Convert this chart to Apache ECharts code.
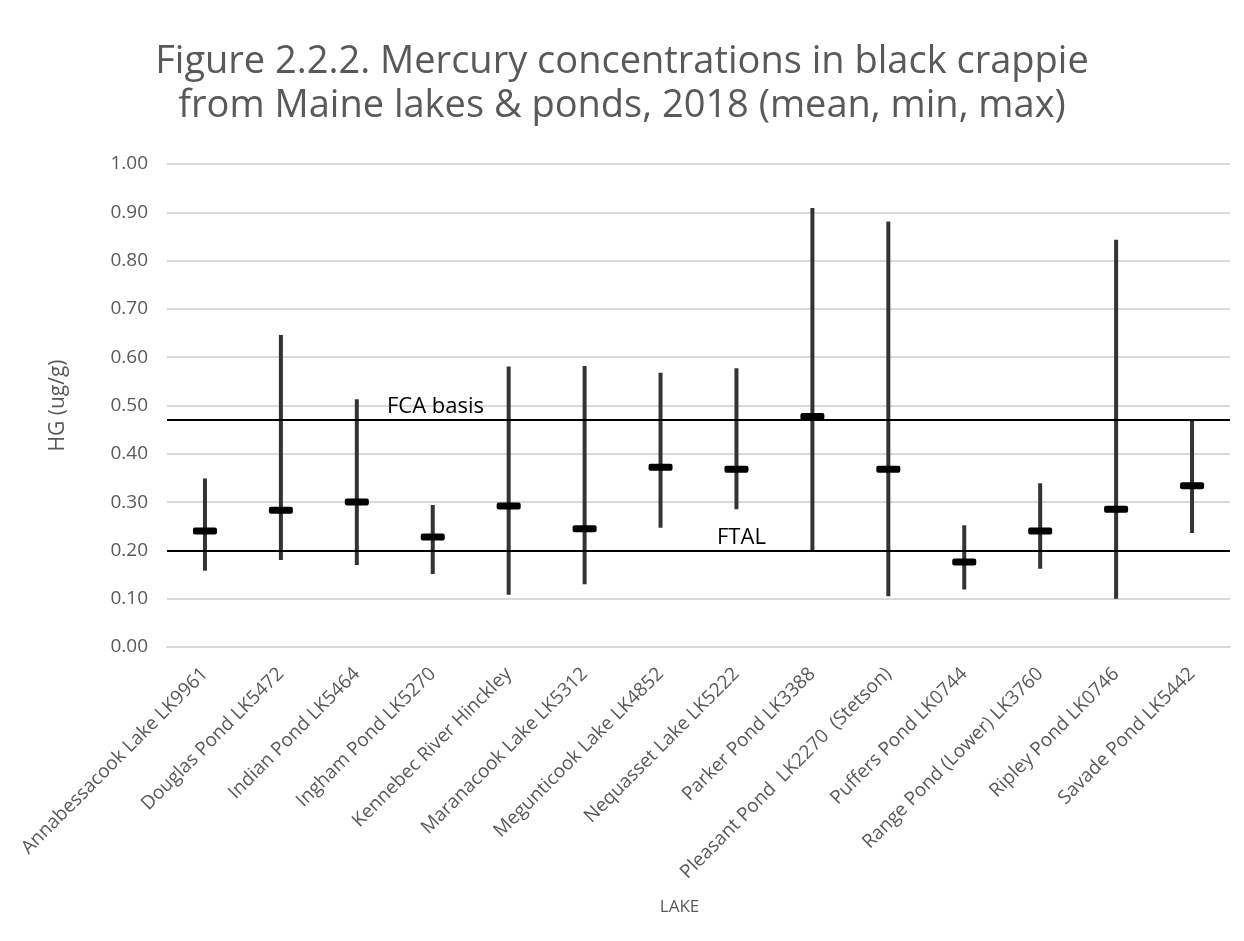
<!DOCTYPE html>
<html>
<head>
<meta charset="utf-8">
<script src="https://cdn.jsdelivr.net/npm/echarts@6/dist/echarts.min.js"></script>
<style>html,body{margin:0;padding:0;background:#fff;}#c{width:1244px;height:941px;}</style>
</head>
<body>
<div id="c"></div>
<script>
const lakes = ["Annabessacook Lake LK9961","Douglas Pond LK5472","Indian Pond LK5464","Ingham Pond LK5270","Kennebec River Hinckley","Maranacook Lake LK5312","Megunticook Lake LK4852","Nequasset Lake LK5222","Parker Pond LK3388","Pleasant Pond  LK2270  (Stetson)","Puffers Pond LK0744","Range Pond (Lower) LK3760","Ripley Pond LK0746","Savade Pond LK5442"];
const meanVals = [0.24,0.283,0.30,0.228,0.292,0.245,0.372,0.368,0.477,0.368,0.176,0.24,0.285,0.334];
const minVals  = [0.158,0.18,0.17,0.151,0.108,0.13,0.247,0.285,0.20,0.105,0.119,0.162,0.10,0.236];
const maxVals  = [0.349,0.646,0.513,0.294,0.581,0.582,0.568,0.577,0.909,0.881,0.252,0.339,0.843,0.471];
const fcaBasis = 0.47;
const ftal = 0.20;
const yTicks = [0,0.1,0.2,0.3,0.4,0.5,0.6,0.7,0.8,0.9,1.0];

const chart = echarts.init(document.getElementById('c'));
const data = lakes.map((l,i)=>[i, minVals[i], maxVals[i], meanVals[i]]);
const FONT = '"Open Sans", Lato, sans-serif';
chart.setOption({
  backgroundColor:'#fff',
  animation:false,
  title:{
    text:'Figure 2.2.2. Mercury concentrations in black crappie\nfrom Maine lakes & ponds, 2018 (mean, min, max)',
    left:'center', top:35,
    textStyle:{fontFamily:FONT, fontSize:38, fontWeight:'normal', color:'#595959', lineHeight:44}
  },
  grid:{left:167, right:14, top:164, bottom:294},
  xAxis:{
    type:'category', data:lakes,
    name:'LAKE', nameLocation:'middle', nameGap:252,
    nameTextStyle:{fontFamily:FONT, fontSize:17, color:'#595959', padding:[0,38,0,0]},
    axisLine:{show:true, lineStyle:{color:'#d9d9d9', width:2}},
    axisTick:{show:false},
    axisLabel:{rotate:45, interval:0, fontFamily:FONT, fontSize:19, color:'#595959', margin:24}
  },
  yAxis:{
    type:'value', min:0, max:1, interval:0.1,
    name:'HG (ug/g)', nameLocation:'middle', nameGap:98,
    nameTextStyle:{fontFamily:FONT, fontSize:21, color:'#595959'},
    axisLine:{show:false}, axisTick:{show:false},
    splitLine:{lineStyle:{color:'#d9d9d9', width:2}},
    axisLabel:{formatter:v=>v.toFixed(2), fontFamily:FONT, fontSize:19, color:'#595959', margin:19}
  },
  series:[{
    type:'custom',
    data:data,
    encode:{x:0, y:[1,2,3]},
    renderItem:function(params, api){
      const x = api.value(0);
      const pMin = api.coord([x, api.value(1)]);
      const pMax = api.coord([x, api.value(2)]);
      const pMean = api.coord([x, api.value(3)]);
      return {type:'group', children:[
        {type:'line', shape:{x1:pMin[0], y1:pMin[1], x2:pMax[0], y2:pMax[1]}, style:{stroke:'#333', lineWidth:4}},
        {type:'rect', shape:{x:pMean[0]-12, y:pMean[1]-3.5, width:24, height:7, r:2}, style:{fill:'#000'}}
      ]};
    },
    markLine:{
      silent:true, symbol:'none',
      lineStyle:{color:'#000', width:2, type:'solid'},
      label:{fontFamily:FONT, fontSize:22, color:'#000'},
      data:[
        {yAxis:fcaBasis, name:'FCA basis', label:{formatter:'FCA basis', position:'insideStartTop', distance:[220,2]}},
        {yAxis:ftal, name:'FTAL', label:{formatter:'FTAL', position:'insideStartTop', distance:[550,2]}}
      ]
    }
  }]
});
</script>
</body>
</html>
